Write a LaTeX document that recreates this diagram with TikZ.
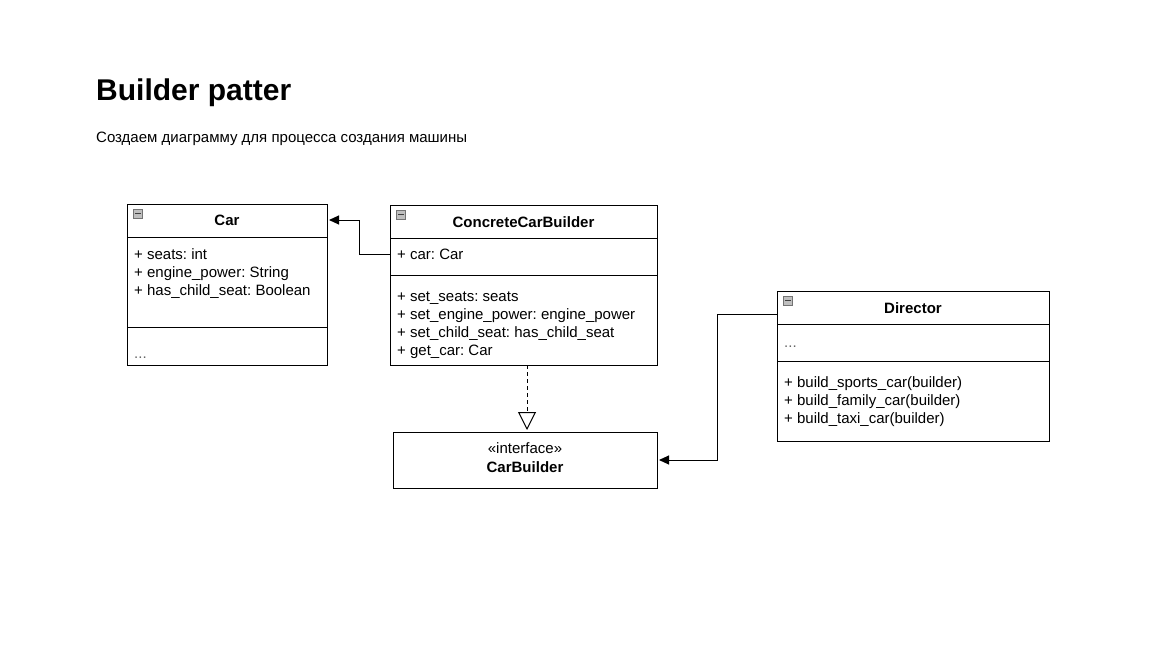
\documentclass[tikz,border=0pt]{standalone}
\usepackage{fontspec}
\setmainfont{Liberation Sans}
\frenchspacing
\usetikzlibrary{arrows.meta}

\tikzset{
  uml/.style={draw,line width=1pt,anchor=north west,inner sep=0,outer sep=0},
  icon/.style={draw=black!55,fill=black!25,line width=.6pt,minimum size=9pt,inner sep=0,
    anchor=north west,path picture={\draw[line width=1.2pt,black!75]
      ([xshift=1.5pt]path picture bounding box.west) -- ([xshift=-1.5pt]path picture bounding box.east);}},
  txt/.style={anchor=base west,inner sep=0,font=\fontsize{15}{18}\selectfont},
  hd/.style={anchor=base,inner sep=0,font=\fontsize{15}{18}\selectfont\bfseries},
  sep/.style={line width=1pt},
  assoc/.style={line width=1pt,-{Triangle[length=10pt,width=9pt]},shorten >=2pt},
  real/.style={line width=1pt,dash pattern=on 4pt off 3pt,-{Triangle[open,length=18pt,width=18pt]},shorten >=2pt}
}

\begin{document}
\begin{tikzpicture}[x=1pt,y=-1pt]
\useasboundingbox (0,0) rectangle (1152,648);
\node[anchor=base west,inner sep=0,font=\fontsize{30}{36}\selectfont\bfseries] (title) at (96,100) {Builder patter};
\node[txt] (sub) at (96,142) {Создаем диаграмму для процесса создания машины};

\node[uml,minimum width=200pt,minimum height=161pt] (car) at (127,204) {};
\node[uml,minimum width=267pt,minimum height=160pt] (ccb) at (390,205) {};
\node[uml,minimum width=264pt,minimum height=56pt] (cb) at (393,432) {};
\node[uml,minimum width=272pt,minimum height=150pt] (dir) at (777,291) {};

\node[icon] (carI) at ([shift={(6pt,-5pt)}]car.north west) {};
\node[icon] (ccbI) at ([shift={(6pt,-5pt)}]ccb.north west) {};
\node[icon] (dirI) at ([shift={(6pt,-5pt)}]dir.north west) {};

\draw[sep] ([yshift=-33pt]car.north west) -- ([yshift=-33pt]car.north east);
\draw[sep] ([yshift=-123pt]car.north west) -- ([yshift=-123pt]car.north east);
\draw[sep] ([yshift=-33pt]ccb.north west) -- ([yshift=-33pt]ccb.north east);
\draw[sep] ([yshift=-70pt]ccb.north west) -- ([yshift=-70pt]ccb.north east);
\draw[sep] ([yshift=-33pt]dir.north west) -- ([yshift=-33pt]dir.north east);
\draw[sep] ([yshift=-70pt]dir.north west) -- ([yshift=-70pt]dir.north east);

\node[hd] (carT) at (227,225) {Car};
\foreach \t [count=\i] in {+ seats: int,+ engine\_power: String,+ has\_child\_seat: Boolean}
  \node[txt] (carA\i) at (134,{241+18*\i}) {\t};
\node[txt,black!60] (carM) at (134,358) {...};

\node[hd] (ccbT) at (523.5,227) {ConcreteCarBuilder};
\node[txt] (ccbA) at (397,259) {+ car: Car};
\foreach \t [count=\i] in {+ set\_seats: seats,+ set\_engine\_power: engine\_power,
    + set\_child\_seat: has\_child\_seat,+ get\_car: Car}
  \node[txt] (ccbM\i) at (397,{283+18*\i}) {\t};

\node[txt,anchor=base] (cbS) at (525,453) {«interface»};
\node[hd] (cbT) at (525,472) {CarBuilder};

\node[hd] (dirT) at (913,313) {Director};
\node[txt,black!60] (dirA) at (784,347) {...};
\foreach \t [count=\i] in {+ build\_sports\_car(builder),+ build\_family\_car(builder),+ build\_taxi\_car(builder)}
  \node[txt] (dirM\i) at (784,{369+18*\i}) {\t};

\draw[assoc] ([yshift=-49pt]ccb.north west) -- ++(-31,0) |- ([yshift=-16pt]car.north east);
\draw[real] ([xshift=3.5pt]ccb.south) coordinate (r) -- (r |- cb.north);
\draw[assoc] ([yshift=-23pt]dir.north west) -- ++(-60,0) |- (cb.east);
\end{tikzpicture}
\end{document}
